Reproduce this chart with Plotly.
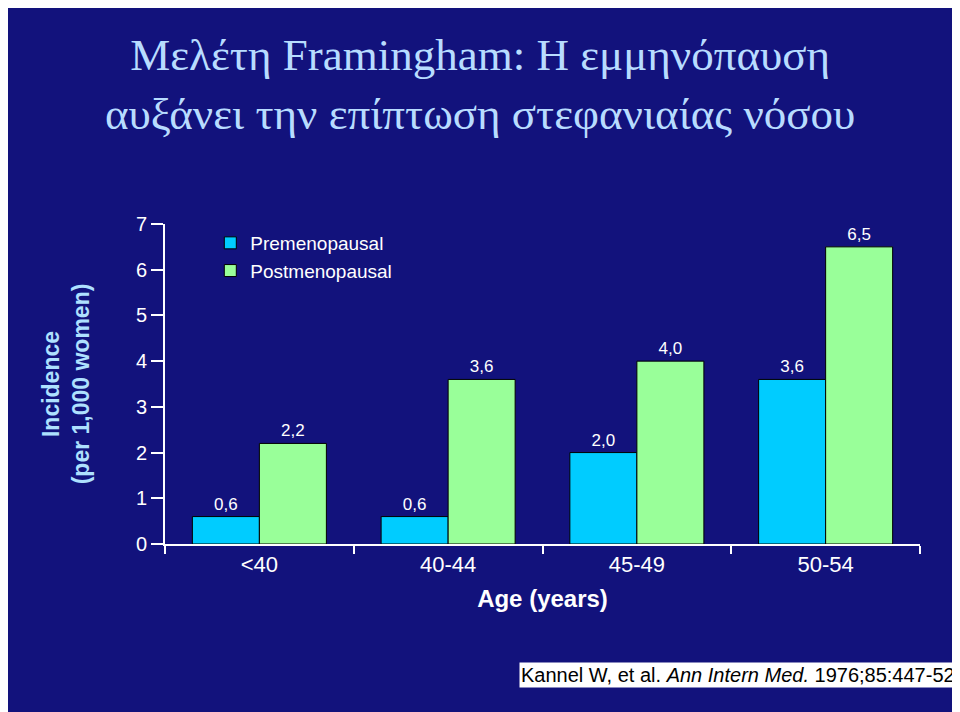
import plotly.graph_objects as go

ages = ["<40", "40-44", "45-49", "50-54"]
pre = [0.6, 0.6, 2.0, 3.6]
post = [2.2, 3.6, 4.0, 6.5]
pre_labels = ["0,6", "0,6", "2,0", "3,6"]
post_labels = ["2,2", "3,6", "4,0", "6,5"]

fig = go.Figure()
fig.add_trace(go.Bar(x=ages, y=pre, name="Premenopausal", marker=dict(color="#00ccff", line=dict(color="black", width=1)),
                     text=pre_labels, textposition="outside", textfont=dict(color="white", size=17, family="Arial"), cliponaxis=False))
fig.add_trace(go.Bar(x=ages, y=post, name="Postmenopausal", marker=dict(color="#99ff99", line=dict(color="black", width=1)),
                     text=post_labels, textposition="outside", textfont=dict(color="white", size=17, family="Arial"), cliponaxis=False))

fig.update_layout(
    width=960, height=712,
    paper_bgcolor="#12127c", plot_bgcolor="rgba(0,0,0,0)",
    margin=dict(l=157, r=48, t=216, b=176),
    barmode="group", bargap=0.29, bargroupgap=0,
    font=dict(family="Arial", color="white"),
    showlegend=True,
    legend=dict(x=0.06, y=1.0, xanchor="left", yanchor="top", bgcolor="rgba(0,0,0,0)",
                font=dict(size=19, color="white"), traceorder="normal"),
)
fig.update_yaxes(range=[0, 7], dtick=1, showgrid=False, showline=True, linecolor="white", linewidth=2,
                 ticks="outside", tickcolor="white", ticklen=12, tickwidth=2,
                 tickfont=dict(size=20, color="white"), zeroline=False,
                 title=dict(text="<b>Incidence<br>(per 1,000 women)</b>", font=dict(size=23, color="#aee0ff"), standoff=40))
fig.update_xaxes(showgrid=False, showline=True, linecolor="white", linewidth=2,
                 ticks="outside", tickcolor="white", ticklen=8, tickwidth=2, tickson="boundaries",
                 tickfont=dict(size=22, color="white"),
                 title=dict(text="<b>Age (years)</b>", font=dict(size=24, color="white"), standoff=14))

fig.add_annotation(text="Μελέτη Framingham: Η εμμηνόπαυση<br>αυξάνει την επίπτωση στεφανιαίας νόσου",
                   xref="paper", yref="paper", x=0.417, y=1.0, yshift=196, xanchor="center", yanchor="top",
                   showarrow=False, align="center",
                   font=dict(family="Liberation Serif", size=45, color="#b8dcff"))
fig.add_annotation(text="Kannel W, et al. <i>Ann Intern Med.</i> 1976;85:447-52.",
                   xref="paper", yref="paper", x=1.055, y=0, yshift=-118, xanchor="right", yanchor="top",
                   showarrow=False, font=dict(size=20, color="black"), bgcolor="white")

fig.write_html("out.html")
